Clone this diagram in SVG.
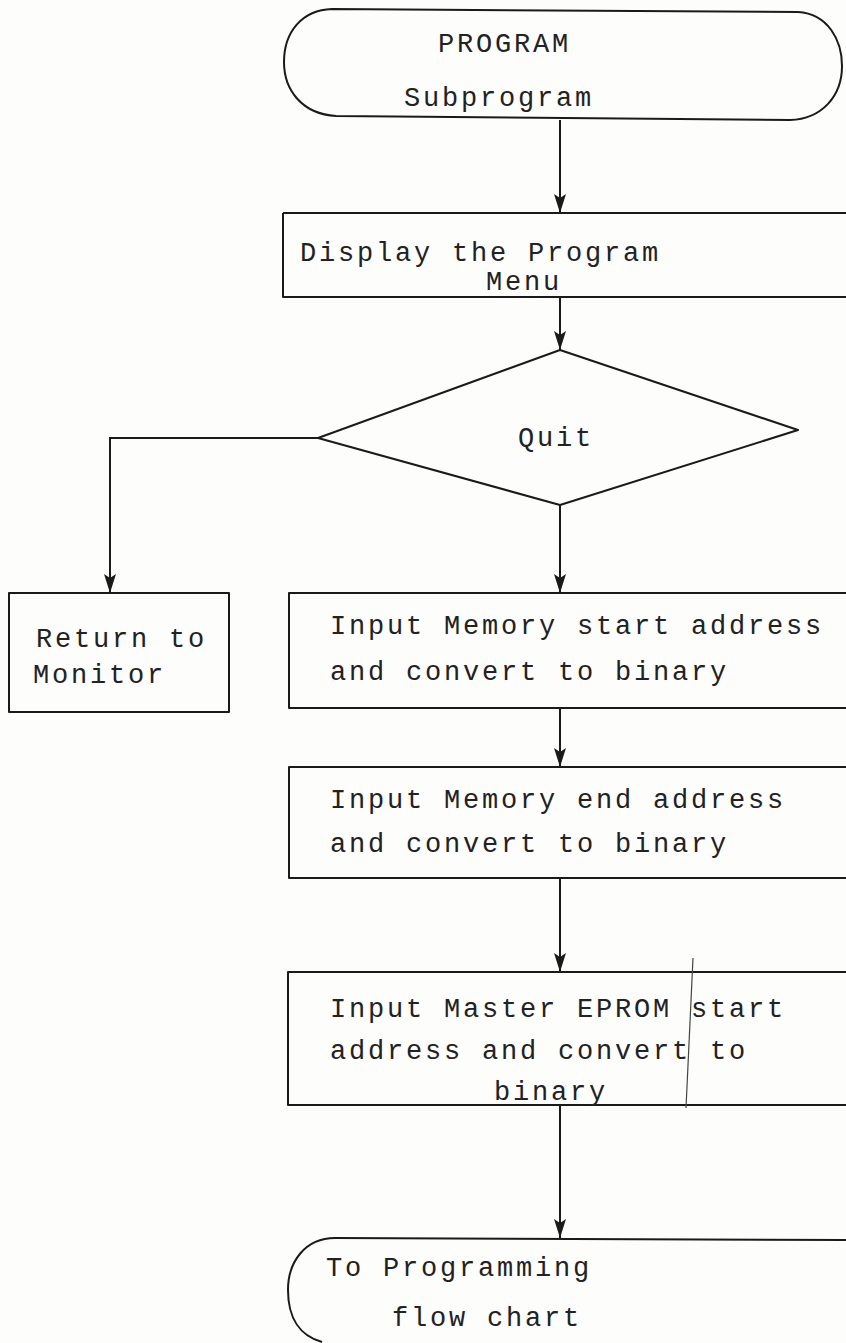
<svg xmlns="http://www.w3.org/2000/svg" width="846" height="1343" viewBox="0 0 846 1343">
  <style>
    .shape { fill: none; stroke: #1a1a1a; stroke-width: 2; stroke-linejoin: round; }
    .flow { fill: none; stroke: #1a1a1a; stroke-width: 2; }
    .label { font-family: "Liberation Mono", "DejaVu Sans Mono", monospace; font-size: 27px; letter-spacing: 2.8px; fill: #222; }
  </style>
  <defs>
    <!-- long, narrow filled arrowhead -->
    <marker id="arrow" markerUnits="userSpaceOnUse" markerWidth="22" markerHeight="14" refX="19" refY="6" orient="auto">
      <path d="M0,0 L19,6 L0,12 L4,6 Z" fill="#1a1a1a"/>
    </marker>
  </defs>
  <rect x="0" y="0" width="846" height="1343" fill="#fdfdfc"/>

  <!-- connectors -->
  <g id="connectors">
    <path class="flow" d="M560,120 L560,213" marker-end="url(#arrow)"/>
    <path class="flow" d="M560,297 L560,350" marker-end="url(#arrow)"/>
    <path class="flow" d="M318,438 L110,438 L110,593" marker-end="url(#arrow)"/>
    <path class="flow" d="M560,505 L560,593" marker-end="url(#arrow)"/>
    <path class="flow" d="M560,708 L560,767" marker-end="url(#arrow)"/>
    <path class="flow" d="M560,878 L560,972" marker-end="url(#arrow)"/>
    <path class="flow" d="M560,1105 L560,1238" marker-end="url(#arrow)"/>
  </g>

  <!-- start terminator -->
  <g id="start">
    <path class="shape" d="M332,9 L798,12 C828,14 842,40 842,66 C842,96 822,119 790,120 L336,116 C302,114 284,90 284,62 C284,32 302,10 332,9 Z"/>
    <text class="label" x="438" y="52">PROGRAM</text>
    <text class="label" x="404" y="106">Subprogram</text>
  </g>

  <!-- display menu -->
  <g id="display-menu">
    <path class="shape" d="M283,213 L846,213 M283,213 L283,297 L846,297"/>
    <text class="label" x="300" y="261">Display the Program</text>
    <text class="label" x="486" y="290">Menu</text>
  </g>

  <!-- quit decision -->
  <g id="quit">
    <path class="shape" d="M560,350 L798,430 L560,505 L318,438 Z"/>
    <text class="label" x="518" y="446">Quit</text>
  </g>

  <!-- return to monitor -->
  <g id="return-monitor">
    <rect class="shape" x="9" y="593" width="220" height="119"/>
    <text class="label" x="36" y="647">Return to</text>
    <text class="label" x="33" y="683">Monitor</text>
  </g>

  <!-- memory start address -->
  <g id="mem-start">
    <path class="shape" d="M846,593 L289,593 L289,708 L846,708"/>
    <text class="label" x="330" y="634">Input Memory start address</text>
    <text class="label" x="330" y="680">and convert to binary</text>
  </g>

  <!-- memory end address -->
  <g id="mem-end">
    <path class="shape" d="M846,767 L289,767 L289,878 L846,878"/>
    <text class="label" x="330" y="808">Input Memory end address</text>
    <text class="label" x="330" y="852">and convert to binary</text>
  </g>

  <!-- master EPROM start address, with a pencil stroke across the box -->
  <g id="eprom-start">
    <path class="shape" d="M846,972 L288,972 L288,1105 L846,1105"/>
    <text class="label" x="330" y="1017">Input Master EPROM start</text>
    <text class="label" x="330" y="1059">address and convert to</text>
    <text class="label" x="494" y="1100">binary</text>
    <path d="M693,958 L686,1108" fill="none" stroke="#444" stroke-width="1.2"/>
  </g>

  <!-- end terminator -->
  <g id="end">
    <path class="shape" d="M846,1240 L335,1238 C305,1238 288,1262 288,1290 C288,1318 300,1336 322,1342"/>
    <text class="label" x="326" y="1276">To Programming</text>
    <text class="label" x="392" y="1326">flow chart</text>
  </g>
</svg>
